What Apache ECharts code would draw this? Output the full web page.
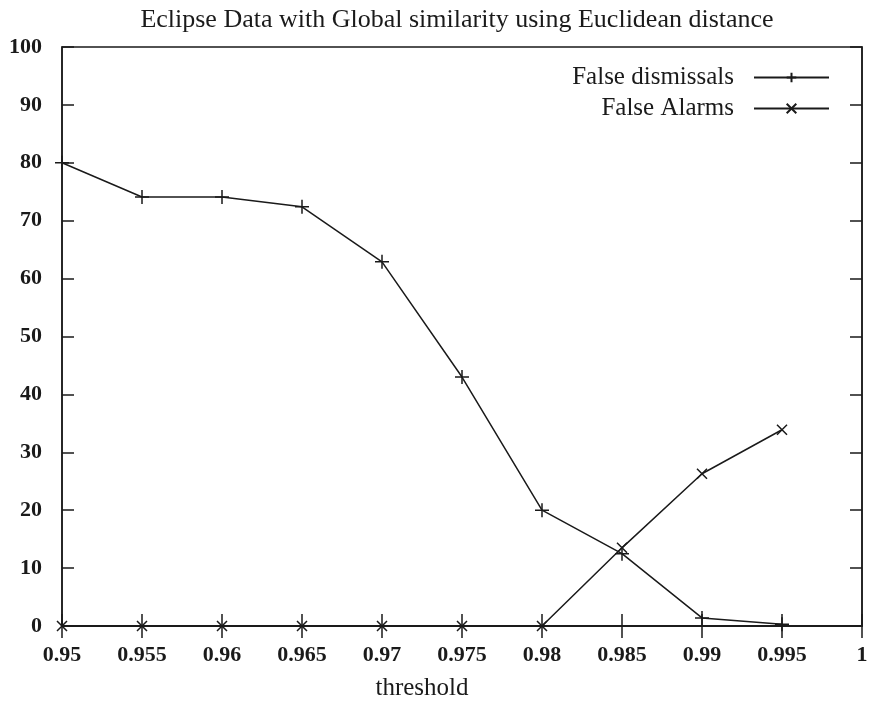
<!DOCTYPE html>
<html><head><meta charset="utf-8">
<script src="https://cdn.jsdelivr.net/npm/echarts@6/dist/echarts.min.js"></script>
<style>html,body{margin:0;padding:0;background:#fff}#c{width:870px;height:702px}</style>
</head><body><div id="c"></div>
<script>
var thresholds = [0.95, 0.955, 0.96, 0.965, 0.97, 0.975, 0.98, 0.985, 0.99, 0.995];
var falseDismissals = [80, 74.1, 74.1, 72.4, 62.9, 43, 20, 12.5, 1.4, 0.3];
var falseAlarms = [0, 0, 0, 0, 0, 0, 0, 13.5, 26.3, 33.9];
var titleText = 'Eclipse Data with Global similarity using Euclidean distance';
var xName = 'threshold';

var plusPath = 'path://M5,0L5,10M0,5L10,5';
var crossPath = 'path://M0,0L10,10M10,0L0,10';
var font = 'Liberation Serif';
var ink = '#1a1a1a';

function pairs(xs, ys){ return xs.map(function(x,i){ return [x, ys[i]]; }); }

var chart = echarts.init(document.getElementById('c'), null, {renderer:'canvas'});
var axisCommon = {
  axisLine:{show:true, lineStyle:{color:ink, width:1.5}},
  axisTick:{show:true, inside:true, length:12, lineStyle:{color:ink, width:1.5}},
  splitLine:{show:false}
};
chart.setOption({
  animation:false,
  backgroundColor:'#fff',
  title:{text:titleText, left:452, textAlign:'center', top:2,
    textStyle:{fontFamily:font, fontSize:26, fontWeight:'normal', color:ink}},
  grid:{left:62, right:8, top:47, bottom:76, show:true, borderColor:ink, borderWidth:1.5,
    containLabel:false, outerBoundsMode:'none'},
  legend:{orient:'vertical', right:35, top:60, align:'right', itemWidth:75, itemHeight:12, itemGap:6,
    textStyle:{fontFamily:font, fontSize:25, color:ink, padding:[0,15,0,0]},
    data:['False dismissals','False Alarms']},
  xAxis:[Object.assign({type:'value', min:0.95, max:1.0, interval:0.005, name:xName,
    nameLocation:'middle', nameGap:50, nameTextStyle:{fontFamily:font, fontSize:25, color:ink, padding:[0,80,0,0]},
    axisLabel:{fontFamily:font, fontSize:22, fontWeight:'bold', color:ink, margin:18,
      formatter:function(v){ return String(parseFloat(v.toFixed(3))); }}}, axisCommon),
    Object.assign({type:'value', position:'top', min:0.95, max:1.0, interval:0.005, axisLabel:{show:false}}, axisCommon)],
  yAxis:[Object.assign({type:'value', min:0, max:100, interval:10,
    axisLabel:{fontFamily:font, fontSize:22, fontWeight:'bold', color:ink, margin:20}}, axisCommon),
    Object.assign({type:'value', position:'right', min:0, max:100, interval:10, axisLabel:{show:false}}, axisCommon)],
  series:[
    {name:'False dismissals', type:'line', data:pairs(thresholds, falseDismissals),
      symbol:plusPath, symbolSize:14, showSymbol:true,
      lineStyle:{color:ink, width:1.5}, itemStyle:{color:ink, borderColor:ink, borderWidth:1.5}},
    {name:'False Alarms', type:'line', data:pairs(thresholds, falseAlarms),
      symbol:crossPath, symbolSize:10, showSymbol:true,
      lineStyle:{color:ink, width:1.5}, itemStyle:{color:ink, borderColor:ink, borderWidth:1.5}}
  ]
});
</script></body></html>
